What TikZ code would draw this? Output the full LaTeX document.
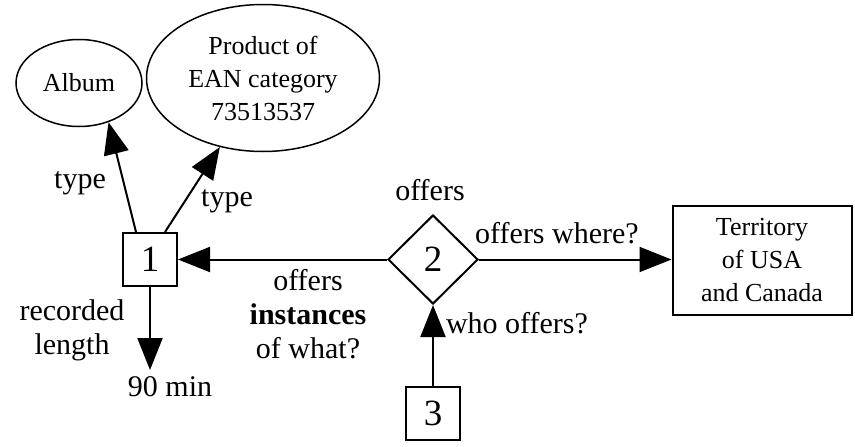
\documentclass[tikz,border=0pt]{standalone}
\usepackage{fontspec}
\setmainfont{Liberation Serif}
\usetikzlibrary{shapes.geometric,arrows.meta,calc}
\tikzset{
  entity/.style={draw, line width=1.5pt, ellipse, inner sep=0pt, align=center,
    font=\fontsize{26}{33}\selectfont},
  idbox/.style={draw, line width=2pt, rectangle, inner sep=0pt,
    minimum width=54pt, minimum height=53pt, font=\fontsize{37}{40}\selectfont},
  place/.style={draw, line width=2pt, rectangle, inner sep=0pt, align=center,
    minimum width=179pt, minimum height=109pt, font=\fontsize{26}{33}\selectfont},
  relation/.style={draw, line width=2pt, diamond, inner sep=0pt,
    minimum width=90pt, minimum height=89pt, font=\fontsize{37}{40}\selectfont},
  lbl/.style={inner sep=0pt, align=center, font=\fontsize{30}{34}\selectfont},
  link/.style={line width=2pt, -{Triangle[length=32pt,width=25pt]}},
}
\begin{document}
\begin{tikzpicture}[x=1pt,y=-1pt]
\useasboundingbox (0,0) rectangle (855,447);

% nodes
\node[entity, minimum width=126pt, minimum height=87pt] (album) at (79,83) {Album};
\node[entity, minimum width=233pt, minimum height=147pt] (product) at (263,78)
  {Product of\\EAN category\\73513537};
\node[idbox] (n1) at (150,259.5) {1};
\node[relation] (n2) at (433,259.5) {2};
\node[idbox] (n3) at (433,413) {3};
\node[place] (terr) at (762,260) {Territory\\of USA\\and Canada};
\node[lbl] (len) at (170,387) {90 min};
\coordinate (lenend) at (150,370);

% edge labels
\node[lbl] (ltype1) at (80,183) {type};
\node[lbl] (ltype2) at (227,201) {type};
\node[lbl] (loffers) at (430,190) {offers};
\node[lbl] (lwhere) at (557,233) {offers where?};
\node[lbl] (lwho) at (517,323) {who offers?};
\node[lbl] (lrec) at (72,330) {recorded\\length};
\node[lbl] (lwhat) at (308,314) {offers\\\textbf{instances}\\of what?};

% connectors
\draw[link] ($(n1.north)+(-14,0)$) -- (album.-53);
\draw[link] ($(n1.north)+(15,0)$) -- (product.-122);
\draw[link] (n2.west) -- (n1.east);
\draw[link] (n2.east) -- (n2.east -| terr.west);
\draw[link] (n3.north) -- (n2.south);
\draw[link] (n1.south) -- (lenend);
\end{tikzpicture}
\end{document}
